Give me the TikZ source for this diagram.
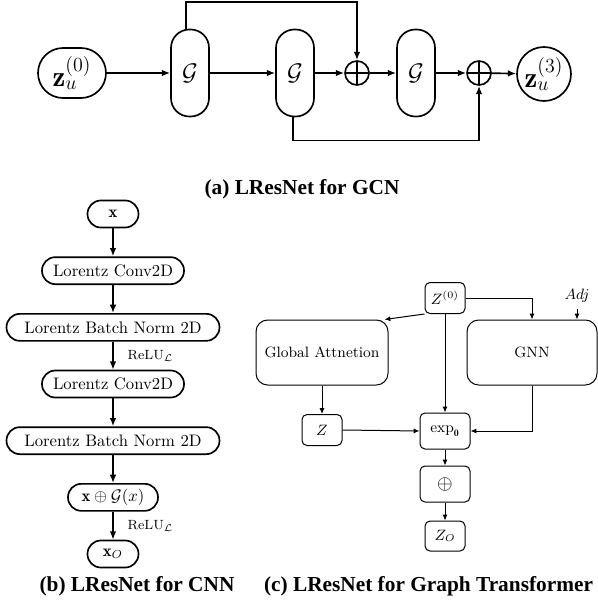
\documentclass[tikz,border=0pt]{standalone}
\usepackage{amsmath,amssymb}
\usepackage{fontspec}
\newfontfamily\capfont{Liberation Serif}
\usetikzlibrary{arrows.meta,positioning}

\begin{document}
\begin{tikzpicture}[x=0.6pt,y=-0.6pt,
  pill/.style={draw, line width=1pt, rounded corners=8pt, minimum height=16.2pt, inner sep=2pt},
  gbox/.style={draw, line width=1pt, rounded corners=11pt, minimum width=22.8pt, minimum height=52.2pt, font=\Large},
  plusnode/.style={circle, draw, line width=1pt, minimum size=14.4pt, inner sep=0pt,
    path picture={\draw[line width=1pt] (path picture bounding box.north) -- (path picture bounding box.south)
      (path picture bounding box.west) -- (path picture bounding box.east);}},
  arr/.style={-{Latex[length=5pt,width=4pt]}, line width=1pt},
  tarr/.style={-{Latex[length=3.5pt,width=3pt]}, line width=0.6pt},
  tbox/.style={draw, line width=0.6pt, rounded corners=3pt, font=\small, inner sep=0pt},
  bigbox/.style={tbox, rounded corners=7pt, minimum width=79.2pt, minimum height=39pt},
  relu/.style={font=\footnotesize, midway, right=5pt},
  capt/.style={font=\capfont\bfseries\fontsize{12.8}{15}\selectfont, anchor=base},
  node distance=16.8pt
]
\useasboundingbox (0,0) rectangle (598,604);

\node[pill, rounded corners=15pt, minimum width=40.8pt, minimum height=30pt, font=\LARGE] (z0) at (72,73) {$\mathbf{z}_u^{(0)}$};
\node[gbox] (g1) at (190,73) {$\mathcal{G}$};
\node[gbox] (g2) at (295,73) {$\mathcal{G}$};
\node[plusnode] (p1) at (357,73) {};
\node[gbox] (g3) at (416,73) {$\mathcal{G}$};
\node[plusnode] (p2) at (479,73) {};
\node[circle, draw, line width=1pt, minimum size=32.4pt, inner sep=0pt, font=\LARGE] (z3) at (544,74) {$\mathbf{z}_u^{(3)}$};

\draw[arr] (z0) -- (g1);
\draw[arr] (g1) -- (g2);
\draw[arr] (g2) -- (p1);
\draw[arr] (p1) -- (g3);
\draw[arr] (g3) -- (p2);
\draw[arr] (p2) -- (z3);
\draw[arr] ([xshift=-2.4pt]g1.north) -- ++(0,-27) -| (p1.north);
\draw[arr] ([xshift=-1.2pt]g2.south) -- ++(0,23) -| (p2.south);

\node[capt] (capa) at (302,194) {(a) LResNet for GCN};

\node[pill, minimum width=30.6pt] (xin) at (113,214) {$\mathbf{x}$};
\node[pill, minimum width=85.2pt, below=of xin] (conv1) {Lorentz Conv2D};
\node[pill, minimum width=127.8pt, below=of conv1] (bn1) {Lorentz Batch Norm 2D};
\node[pill, minimum width=85.2pt, below=of bn1] (conv2) {Lorentz Conv2D};
\node[pill, minimum width=127.8pt, below=of conv2] (bn2) {Lorentz Batch Norm 2D};
\node[pill, minimum width=54pt, below=of bn2] (xg) {$\mathbf{x}\oplus\mathcal{G}(x)$};
\node[pill, minimum width=30.6pt, below=of xg] (xo) {$\mathbf{x}_O$};

\draw[arr] (xin) -- (conv1);
\draw[arr] (conv1) -- (bn1);
\draw[arr] (bn1) -- (conv2) node[relu] {$\mathrm{ReLU}_{\mathcal{L}}$};
\draw[arr] (conv2) -- (bn2);
\draw[arr] (bn2) -- (xg);
\draw[arr] (xg) -- (xo) node[relu] {$\mathrm{ReLU}_{\mathcal{L}}$};

\node[capt] (capb) at (137,591) {(b) LResNet for CNN};

\node[tbox, minimum width=24pt, minimum height=18.6pt] (z0c) at (445,298) {$Z^{(0)}$};
\node[font=\small] (adj) at (577,296) {$Adj$};
\node[bigbox] (glob) at (322,352.5) {Global Attnetion};
\node[bigbox, minimum width=78pt] (gnn) at (532,352.5) {GNN};
\node[tbox, minimum width=24pt, minimum height=18.6pt] (zc) at (322,430) {$Z$};
\node[tbox, minimum width=30pt, minimum height=21.6pt] (expo) at (445,431) {$\exp_{\mathbf{0}}$};
\node[tbox, minimum width=30pt, minimum height=21.6pt, font=\large] (plusc) at (445,484) {$\oplus$};
\node[tbox, minimum width=24pt, minimum height=18pt] (zo) at (445,536) {$Z_O$};

\draw[tarr] (z0c.south west) -- ([xshift=-2.4pt]glob.north east);
\draw[tarr] (z0c.east) -| (gnn.north);
\draw[tarr] (adj.south) -- (adj.south |- gnn.north);
\draw[tarr] (z0c.south) -- (expo.north);
\draw[tarr] (glob.south) -- (zc.north);
\draw[tarr] (zc.east) -- (expo.west);
\draw[tarr] (gnn.south) |- (expo.east);
\draw[tarr] (expo) -- (plusc);
\draw[tarr] (plusc) -- (zo);

\node[capt] (capc) at (428.5,591) {(c) LResNet for Graph Transformer};
\end{tikzpicture}
\end{document}
